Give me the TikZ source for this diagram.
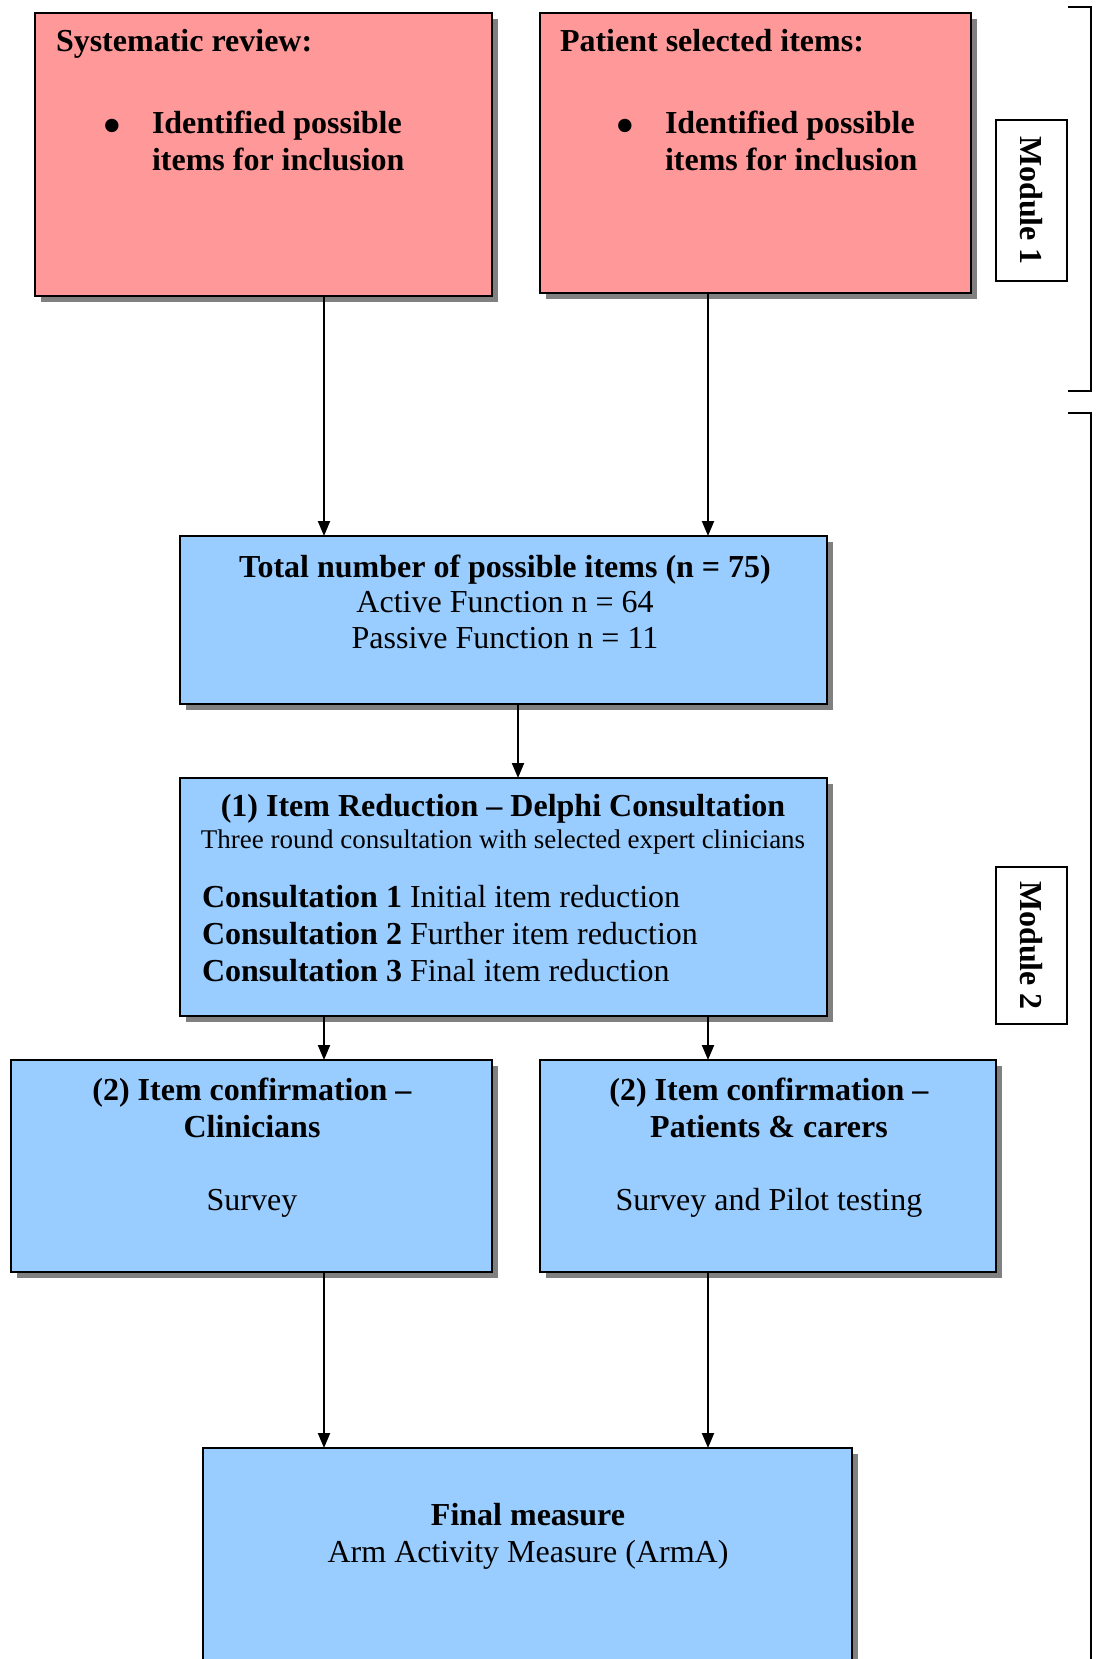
\documentclass[tikz,border=0pt]{standalone}
\usepackage{fontspec}
\setmainfont{Liberation Serif}
\usetikzlibrary{shadows,arrows.meta}
\definecolor{pinkfill}{HTML}{FF9999}
\definecolor{bluefill}{HTML}{99CCFF}
\definecolor{shadowgray}{HTML}{808080}
\begin{document}
\begin{tikzpicture}[x=1pt,y=-1pt,
  every node/.style={inner sep=0pt,outer sep=0pt,font=\fontsize{32}{37}\selectfont},
  stage/.style={draw=black,line width=2pt,rectangle,anchor=north west,
    drop shadow={shadow xshift=6pt,shadow yshift=-6pt,fill=shadowgray,opacity=1}},
  pinkbox/.style={stage,fill=pinkfill},
  bluebox/.style={stage,fill=bluefill},
  modbox/.style={draw=black,line width=1.5pt,fill=white,rectangle,anchor=north west},
  arr/.style={line width=2pt,-{Triangle[length=15pt,width=12pt]}},
  brk/.style={line width=2pt},
  bul/.style={font=\fontsize{56}{56}\selectfont},
  bold/.style={font=\bfseries\fontsize{32}{37}\selectfont},
  small/.style={font=\fontsize{27}{31}\selectfont}]
\useasboundingbox (0,0) rectangle (1095,1659);

% column positions of the connectors
\coordinate (xl) at (324,0);
\coordinate (xr) at (708,0);
\coordinate (xm) at (518,0);

% boxes
\node[pinkbox,minimum width=457pt,minimum height=283pt] (sr) at (35,13) {};
\node[pinkbox,minimum width=431pt,minimum height=280pt] (ps) at (540,13) {};
\node[bluebox,minimum width=647pt,minimum height=168pt] (tot) at (180,536) {};
\node[bluebox,minimum width=647pt,minimum height=238pt] (red) at (180,778) {};
\node[bluebox,minimum width=481pt,minimum height=212pt] (conc) at (11,1060) {};
\node[bluebox,minimum width=456pt,minimum height=212pt] (conp) at (540,1060) {};
\node[bluebox,minimum width=649pt,minimum height=260pt] (fin) at (203,1448) {};

% module labels and brackets
\node[modbox,minimum width=71pt,minimum height=161pt] (m1) at (996,120) {};
\node[rotate=-90,bold] (m1t) at (m1.center) {Module 1};
\node[modbox,minimum width=71pt,minimum height=157pt] (m2) at (996,867) {};
\node[rotate=-90,bold] (m2t) at (m2.center) {Module 2};
\draw[brk] (1068,7) -- (1091,7) -- (1091,391) -- (1068,391);
\draw[brk] (1068,413) -- (1091,413) -- (1091,1700);

% texts of the first two boxes
\node[anchor=base west,bold] (srt) at (56,52) {Systematic review:};
\node[bul] (srb) at (112,132) {\textbullet};
\node[anchor=base west,bold] (sr1) at (152,133) {Identified possible};
\node[anchor=base west,bold] (sr2) at (152,170) {items for inclusion};

\node[anchor=base west,bold] (pst) at (560,52) {Patient selected items:};
\node[bul] (psb) at (625,132) {\textbullet};
\node[anchor=base west,bold] (ps1) at (665,133) {Identified possible};
\node[anchor=base west,bold] (ps2) at (665,170) {items for inclusion};

% total number of items
\node[anchor=base] (tot1) at (505,577) {\textbf{Total number of possible items (n = 75)}};
\node[anchor=base] (tot2) at (505,612) {Active Function n = 64};
\node[anchor=base] (tot3) at (505,648) {Passive Function n = 11};

% item reduction
\node[anchor=base] (red1) at (503,816) {\textbf{(1) Item Reduction – Delphi Consultation}};
\node[anchor=base,small] (red2) at (503,848) {Three round consultation with selected expert clinicians};
\node[anchor=base west] (red3) at (202,907) {\textbf{Consultation 1} Initial item reduction};
\node[anchor=base west] (red4) at (202,944) {\textbf{Consultation 2} Further item reduction};
\node[anchor=base west] (red5) at (202,981) {\textbf{Consultation 3} Final item reduction};

% item confirmation
\node[anchor=base] (conc1) at (252,1100) {\textbf{(2) Item confirmation –}};
\node[anchor=base] (conc2) at (252,1137) {\textbf{Clinicians}};
\node[anchor=base] (conc3) at (252,1210) {Survey};
\node[anchor=base] (conp1) at (769,1100) {\textbf{(2) Item confirmation –}};
\node[anchor=base] (conp2) at (769,1137) {\textbf{Patients \& carers}};
\node[anchor=base] (conp3) at (769,1210) {Survey and Pilot testing};

% final measure
\node[anchor=base] (fin1) at (528,1525) {\textbf{Final measure}};
\node[anchor=base] (fin2) at (528,1562) {Arm Activity Measure (ArmA)};

% connectors
\draw[arr] (sr.south -| xl) -- (tot.north -| xl);
\draw[arr] (ps.south -| xr) -- (tot.north -| xr);
\draw[arr] (tot.south -| xm) -- (red.north -| xm);
\draw[arr] (red.south -| xl) -- (conc.north -| xl);
\draw[arr] (red.south -| xr) -- (conp.north -| xr);
\draw[arr] (conc.south -| xl) -- (fin.north -| xl);
\draw[arr] (conp.south -| xr) -- (fin.north -| xr);
\end{tikzpicture}
\end{document}
